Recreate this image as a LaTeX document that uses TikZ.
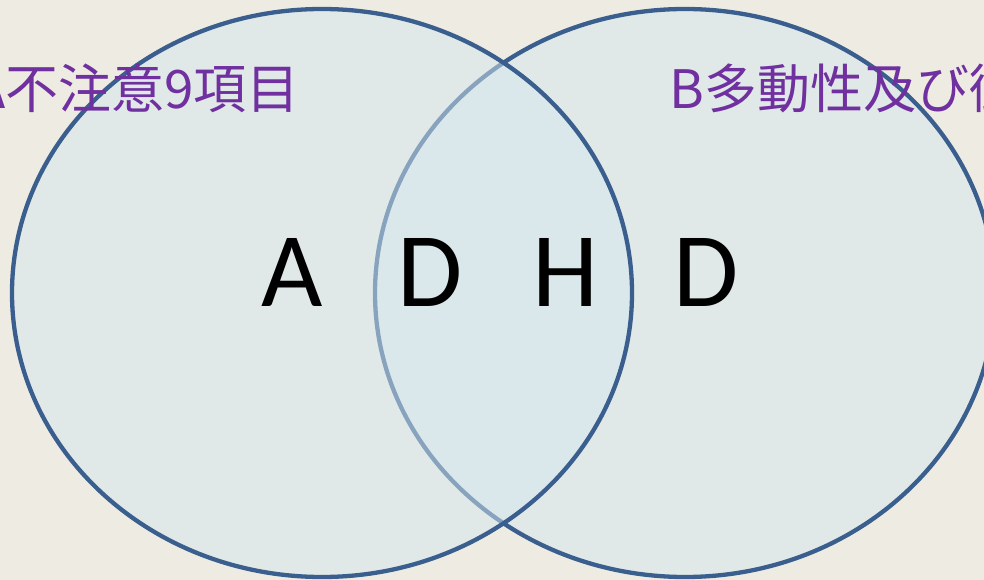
\documentclass[tikz,border=0pt]{standalone}
\usepackage{fontspec}
\setmainfont{Carlito}
\newfontfamily\jpfont{Noto Sans CJK JP}
\definecolor{bgbeige}{HTML}{EEECE2}
\definecolor{ringblue}{HTML}{3A5F8F}
\definecolor{ringfill}{HTML}{D6E8EE}
\definecolor{labelpurple}{HTML}{7030A0}
\tikzset{
  ring/.style={draw=ringblue, line width=4.3pt, fill=ringfill, fill opacity=0.5},
  setlabel/.style={text=labelpurple, font=\jpfont\fontsize{53}{56}\selectfont, anchor=base west, inner sep=0pt},
  bigletter/.style={text=black, font=\fontsize{106}{110}\selectfont, anchor=base, inner sep=0pt}
}
\begin{document}
\begin{tikzpicture}[x=1pt,y=-1pt]
\useasboundingbox (0,0) rectangle (984,580);
\clip (0,0) rectangle (984,580);
\fill[bgbeige] (0,0) rectangle (984,580);
\path[ring] (685,293) ellipse [x radius=310, y radius=284];
\path[ring] (322,293) ellipse [x radius=310, y radius=284];
\node[setlabel] (la) at (-27,109) {A不注意9項目};
\node[setlabel] (lb) at (669,109) {B多動性及び衝};
\node[bigletter] (a) at (292,306) {A};
\node[bigletter] (d1) at (430,306) {D};
\node[bigletter] (h) at (566,306) {H};
\node[bigletter] (d2) at (706,306) {D};
\end{tikzpicture}
\end{document}
